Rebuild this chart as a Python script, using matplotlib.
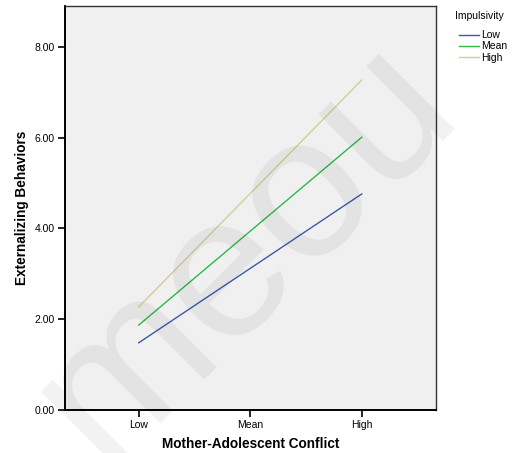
import matplotlib
matplotlib.use("Agg")
import matplotlib.pyplot as plt

plt.rcParams['font.family'] = ['Liberation Sans', 'DejaVu Sans']

conflict_levels = ["Low", "Mean", "High"]
impulsivity_groups = ["Low", "Mean", "High"]
behaviors_low = [1.48, 3.12, 4.76]
behaviors_mean = [1.87, 3.94, 6.01]
behaviors_high = [2.27, 4.77, 7.27]
y_ticks = [0, 2, 4, 6, 8]

series = [behaviors_low, behaviors_mean, behaviors_high]
colors = ["#3E58AC", "#2EB848", "#D3CE97"]

W, H = 512, 453
fig = plt.figure(figsize=(W / 100, H / 100), dpi=100)
ax = fig.add_axes([64.5 / W, 43 / H, (436 - 64.5) / W, (410 - 6) / H])
ax.set_facecolor("#f0f0f0")

xs = list(range(len(conflict_levels)))
for vals, c, name in zip(series, colors, impulsivity_groups):
    ax.plot(xs, vals, color=c, lw=1.0, label=name, zorder=3)

ax.set_xlim(-0.665, 2.665)
ax.set_ylim(0, 8.9)
ax.set_xticks(xs)
ax.set_xticklabels(conflict_levels, fontsize=7.5)
ax.set_yticks(y_ticks)
ax.set_yticklabels([f"{v:.2f}" for v in y_ticks], fontsize=7.5)
ax.tick_params(axis='both', direction='out', length=5, width=1.2, color='black', pad=2)

for side in ["left", "bottom"]:
    ax.spines[side].set_linewidth(1.4)
    ax.spines[side].set_color("black")
for side in ["top", "right"]:
    ax.spines[side].set_linewidth(1.0)
    ax.spines[side].set_color("#333333")

ax.set_xlabel("Mother-Adolescent Conflict", fontsize=9.8, fontweight='bold', labelpad=5)
ax.set_ylabel("Externalizing Behaviors", fontsize=9.8, fontweight='bold', labelpad=4)

# legend title drawn separately to leave the wider gap above the entries
fig.text(455 / W, 1 - 16 / H, "Impulsivity", fontsize=7.5, ha='left', va='center')
leg = ax.legend(loc='upper left', bbox_to_anchor=(1.062, 0.94), frameon=False,
                fontsize=7.5, handlelength=1.9, handletextpad=0.25,
                labelspacing=0.12, borderpad=0, borderaxespad=0)

# faint diagonal watermark
fig.text(0.48, 0.445, "meou", fontsize=146, color="black", alpha=0.055,
         rotation=45, ha='center', va='center', zorder=10)

fig.savefig("out.png", dpi=100)
